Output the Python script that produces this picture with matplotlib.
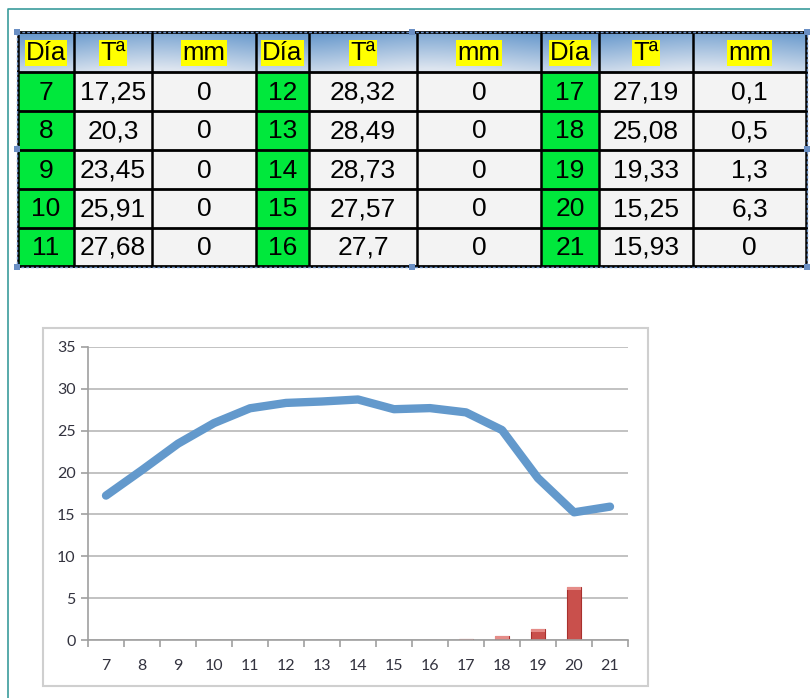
import numpy as np
import matplotlib
matplotlib.use("Agg")
import matplotlib.pyplot as plt
from matplotlib.patches import Rectangle

# datos de la tabla
dias = [7, 8, 9, 10, 11, 12, 13, 14, 15, 16, 17, 18, 19, 20, 21]
temp = [17.25, 20.3, 23.45, 25.91, 27.68, 28.32, 28.49, 28.73, 27.57, 27.7,
        27.19, 25.08, 19.33, 15.25, 15.93]
lluvia = [0, 0, 0, 0, 0, 0, 0, 0, 0, 0, 0.1, 0.5, 1.3, 6.3, 0]
cabecera = ["Día", "Tª", "mm"]

W, H = 810, 698
fig = plt.figure(figsize=(W / 100, H / 100), dpi=100)
bg = fig.add_axes([0, 0, 1, 1])
bg.set_xlim(0, W)
bg.set_ylim(H, 0)
bg.axis("off")

# borde exterior
bg.plot([8, 8, W + 5], [H + 5, 9, 9], color="#3b9c9c", lw=1.2)

# tabla
col_x = [18, 74, 152, 256, 309, 417, 541, 599, 693, 806]
row_y = [32, 72, 111, 150, 189, 228, 266]
fuente = ["Liberation Sans", "DejaVu Sans"]

def fmt(v):
    s = ("%.2f" % v).rstrip("0").rstrip(".")
    return s.replace(".", ",")

# fondo de la cabecera (cielo), degradado suave
gy, gx = np.mgrid[0:1:40j, 0:1:200j]
t = np.clip(0.1 + 0.75 * gy + 0.2 * np.sin(gx * 9) ** 2, 0, 1)
azul = np.array([0.33, 0.55, 0.78])
blanco = np.array([0.87, 0.90, 0.94])
img = azul[None, None, :] * (1 - t[..., None]) + blanco[None, None, :] * t[..., None]
bg.imshow(img, extent=[col_x[0], col_x[-1], row_y[1], row_y[0]], aspect="auto",
          interpolation="bilinear", zorder=1)

for g in range(3):
    for c in range(3):
        x0, x1 = col_x[g * 3 + c], col_x[g * 3 + c + 1]
        xc = (x0 + x1) / 2
        bg.text(xc, (row_y[0] + row_y[1]) / 2 + 1, cabecera[c], ha="center", va="center",
                fontsize=18.5, family=fuente, color="black", zorder=4,
                bbox=dict(boxstyle="square,pad=0.04", fc="#ffff00", ec="none"))
        for r in range(5):
            k = g * 5 + r
            y0, y1 = row_y[r + 1], row_y[r + 2]
            fc = "#00e83c" if c == 0 else "#f3f3f3"
            bg.add_patch(Rectangle((x0, y0), x1 - x0, y1 - y0, fc=fc, ec="none", zorder=1))
            val = [str(dias[k]), fmt(temp[k]), fmt(lluvia[k])][c]
            bg.text(xc, (y0 + y1) / 2 + 1, val, ha="center", va="center",
                    fontsize=19, family=fuente, color="black", zorder=4)

for y in row_y:
    bg.plot([col_x[0], col_x[-1]], [y, y], color="black", lw=2, zorder=3)
for x in col_x:
    bg.plot([x, x], [row_y[0], row_y[-1]], color="black", lw=1.8, zorder=3)

# marco de seleccion
sel = Rectangle((17, 32), 790, 235, fill=False, ec="#6a8fc4", lw=1, ls=(0, (2, 1.5)), zorder=5)
bg.add_patch(sel)
for hx, hy in [(17, 32), (412, 32), (807, 32), (17, 267), (412, 267), (807, 267),
               (17, 149), (807, 149)]:
    bg.add_patch(Rectangle((hx - 3, hy - 3), 6, 6, fc="#6a8fc4", ec="none", zorder=6))

# marco del grafico
bg.add_patch(Rectangle((43, 328), 605, 358, fill=False, ec="#cfcfcf", lw=1.5, zorder=1))

# grafico
ax = fig.add_axes([88 / W, (H - 640) / H, 540 / W, 293 / H])
ax.set_facecolor("none")
x = np.arange(len(dias))
ax.bar(x, lluvia, width=0.4, color="#c9504c", edgecolor="#a8302d", lw=0.8, zorder=2)
ax.bar(x, [min(v, 0.35) if v > 0 else 0 for v in lluvia], bottom=[max(v - 0.35, 0) for v in lluvia],
       width=0.4, color="#e58c88", edgecolor="none", zorder=2)
ax.plot(x, temp, color="#6399cc", lw=6, solid_capstyle="round", solid_joinstyle="round", zorder=3)

ax.set_xlim(-0.5, len(dias) - 0.5)
ax.set_ylim(0, 35)
ax.set_yticks(range(0, 36, 5))
ax.yaxis.grid(True, color="#bdbdbd", lw=1.3)
ax.set_axisbelow(True)
ax.set_xticks(x)
ax.set_xticklabels([str(d) for d in dias])
ax.set_xticks(np.arange(-0.5, len(dias)), minor=True)
ax.tick_params(axis="x", which="major", length=0, pad=14)
ax.tick_params(axis="x", which="minor", length=5, color="#a0a0a0", width=1.2)
ax.tick_params(axis="y", length=5, color="#a0a0a0", width=1.2, pad=4)
for lab in ax.get_xticklabels() + ax.get_yticklabels():
    lab.set_family(["Lato", "DejaVu Sans"])
    lab.set_fontsize(11.5)
    lab.set_color("#33333f")
for s in ["top", "right"]:
    ax.spines[s].set_visible(False)
for s in ["left", "bottom"]:
    ax.spines[s].set_color("#a0a0a0")
    ax.spines[s].set_linewidth(1.2)

fig.savefig("out.png", dpi=100)
